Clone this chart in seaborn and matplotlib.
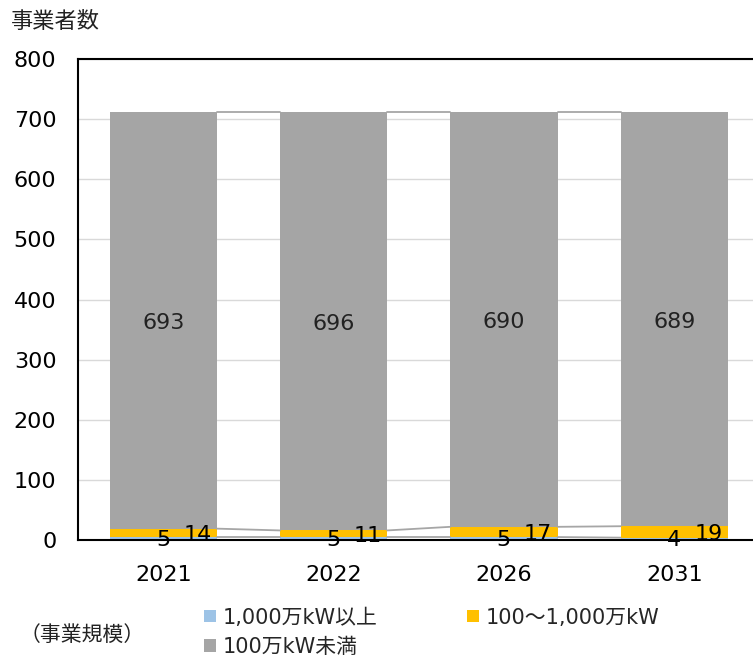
import numpy as np
import pandas as pd
import matplotlib
matplotlib.use("Agg")
import matplotlib.pyplot as plt
import seaborn as sns

# data
years = ["2021", "2022", "2026", "2031"]
large = [5, 5, 5, 4]          # 1,000万kW以上
middle = [14, 11, 17, 19]     # 100～1,000万kW
small = [693, 696, 690, 689]  # 100万kW未満
series_names = ["1,000万kW以上", "100～1,000万kW", "100万kW未満"]
colors = ["#9DC3E6", "#FFC000", "#A5A5A5"]

sns.set_theme(style="white")
plt.rcParams["font.family"] = ["DejaVu Sans", "Noto Sans CJK JP"]

large = np.array(large)
middle = np.array(middle)
small = np.array(small)
top_large = large
top_middle = large + middle
top_total = large + middle + small

df = pd.DataFrame({"year": years, "large": top_large, "middle": top_middle, "total": top_total})

fig = plt.figure(figsize=(7.53, 6.57), dpi=100)
ax = fig.add_axes([0.1036, 0.178, 0.905, 0.732])

bw = 0.63
# stacked bars drawn as overlapping cumulative bars
sns.barplot(data=df, x="year", y="total", color=colors[2], width=bw, saturation=1, linewidth=0, ax=ax, label=series_names[2])
sns.barplot(data=df, x="year", y="middle", color=colors[1], width=bw, saturation=1, linewidth=0, ax=ax, label=series_names[1])
sns.barplot(data=df, x="year", y="large", color=colors[0], width=bw, saturation=1, linewidth=0, ax=ax, label=series_names[0])

# series lines between bars
for level in [top_large, top_middle, top_total]:
    for i in range(len(years) - 1):
        ax.plot([i + bw / 2, i + 1 - bw / 2], [level[i], level[i + 1]],
                color="#A6A6A6", lw=1.3, zorder=1)

# data labels
for i in range(len(years)):
    ax.text(i, large[i] / 2 - 2, str(large[i]), ha="center", va="center", fontsize=16, color="#000000", zorder=5)
    ax.text(i + 0.2, large[i] + middle[i] / 2 - 4, str(middle[i]), ha="center", va="center", fontsize=16, color="#000000", zorder=5)
    ax.text(i, top_middle[i] + small[i] / 2 - 4, str(small[i]), ha="center", va="center", fontsize=16, color="#222222", zorder=5)

ax.set_ylim(0, 800)
ax.set_xlim(-0.5, 3.5)
ax.set_yticks(range(0, 801, 100))
ax.yaxis.grid(True, color="#D9D9D9", lw=1)
ax.set_axisbelow(True)
ax.set_xlabel("")
ax.set_ylabel("")
ax.tick_params(axis="both", length=0, labelsize=16, colors="#000000")
ax.tick_params(axis="y", pad=15.5)
ax.tick_params(axis="x", pad=18)
for side in ["left", "bottom", "top"]:
    ax.spines[side].set_color("#000000")
    ax.spines[side].set_linewidth(1.5)
ax.spines["right"].set_visible(False)

if ax.legend_:
    ax.legend_.remove()

fig.text(0.014, 0.968, "事業者数", fontsize=16, ha="left", va="center", color="#222222")
fig.text(0.026, 0.034, "（事業規模）", fontsize=15, ha="left", va="center", color="#222222",
         family=["Noto Sans CJK JP"])

handles = [ax.containers[2][0], ax.containers[0][0], ax.containers[1][0]]
labels = [series_names[0], series_names[2], series_names[1]]
fig.legend(handles, labels, loc="upper left", bbox_to_anchor=(0.271, 0.0753), ncol=2,
           frameon=False, fontsize=15, handlelength=0.55, handleheight=0.55,
           handletextpad=0.35, columnspacing=4.3, labelspacing=0.45, borderpad=0,
           borderaxespad=0)

fig.savefig("out.png", dpi=100)
